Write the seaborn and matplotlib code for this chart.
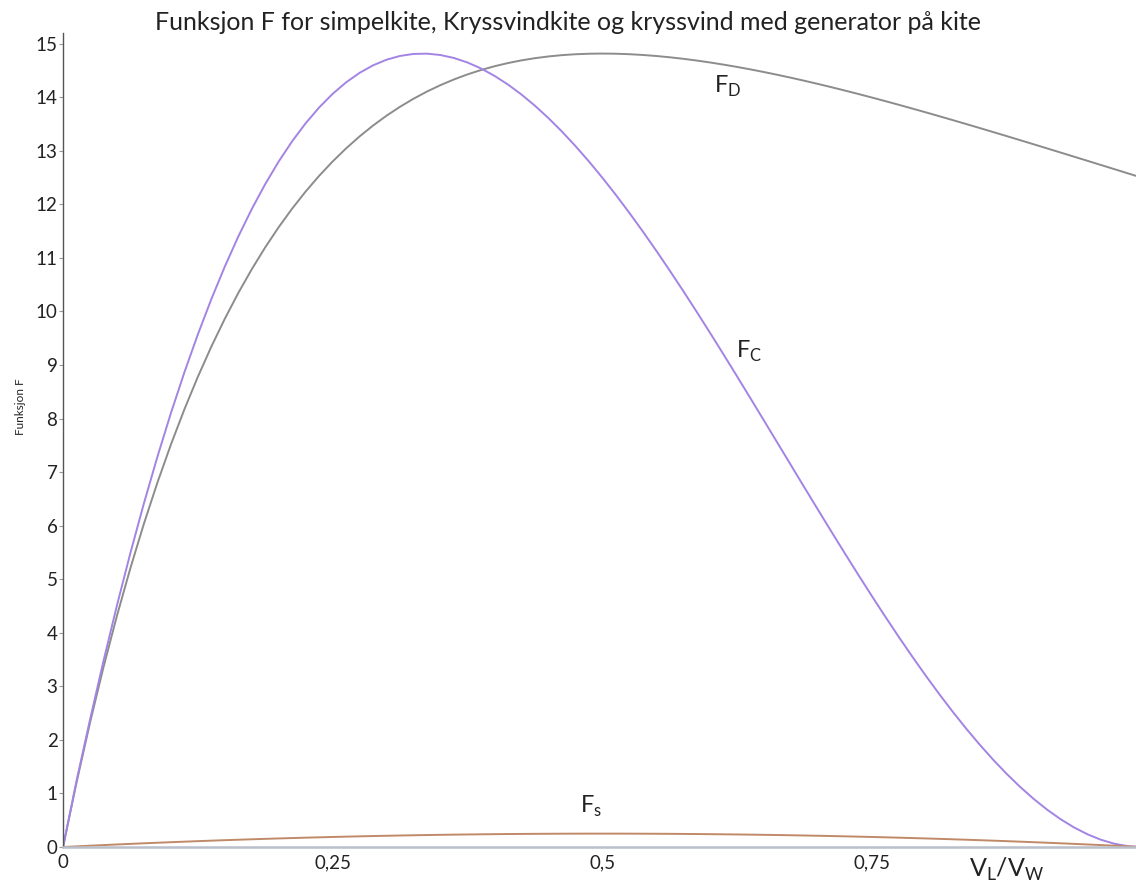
import matplotlib
matplotlib.use("Agg")
import matplotlib.pyplot as plt
import seaborn as sns
import pandas as pd

# V_L / V_W sample positions (steps of 1/80)
x_ratio = [k / 80 for k in range(81)]

# Kryssvindkite
f_c = [0.0, 1.2346, 2.3766, 3.4740, 4.5125, 5.4932, 6.4172, 7.2857, 8.1, 8.8611,
       9.5703, 10.2287, 10.8375, 11.3979, 11.9109, 12.3779, 12.8, 13.1783, 13.5141, 13.8084,
       14.0625, 14.2775, 14.4547, 14.5951, 14.7, 14.7705, 14.8078, 14.8131, 14.7875, 14.7322,
       14.6484, 14.5373, 14.4, 14.2377, 14.0516, 13.8428, 13.6125, 13.3619, 13.0922, 12.8045,
       12.5, 12.1799, 11.8453, 11.4975, 11.1375, 10.7666, 10.3859, 9.9967, 9.6, 9.1971,
       8.7891, 8.3771, 7.9625, 7.5463, 7.1297, 6.7139, 6.3, 5.8893, 5.4828, 5.0818,
       4.6875, 4.3010, 3.9234, 3.5561, 3.2, 2.8564, 2.5266, 2.2115, 1.9125, 1.6307,
       1.3672, 1.1232, 0.9, 0.6986, 0.5203, 0.3662, 0.2375, 0.1354, 0.0609, 0.0154,
       0.0]

# Kryssvind med generator på kite
f_d = [0.0, 1.2043, 2.3215, 3.3579, 4.3192, 5.2107, 6.0372, 6.8033, 7.5131, 8.1704,
       8.7791, 9.3422, 9.8627, 10.3437, 10.7876, 11.1970, 11.5741, 11.9211, 12.2398, 12.5322,
       12.8, 13.0447, 13.2679, 13.4709, 13.6550, 13.8214, 13.9713, 14.1056, 14.2255, 14.3317,
       14.4253, 14.5068, 14.5773, 14.6372, 14.6874, 14.7283, 14.7607, 14.7851, 14.8019, 14.8117,
       14.8148, 14.8118, 14.8030, 14.7888, 14.7695, 14.7456, 14.7172, 14.6848, 14.6484, 14.6085,
       14.5653, 14.5190, 14.4698, 14.4178, 14.3635, 14.3068, 14.2479, 14.1871, 14.1244, 14.0601,
       13.9942, 13.9268, 13.8582, 13.7883, 13.7174, 13.6455, 13.5727, 13.4991, 13.4247, 13.3496,
       13.2741, 13.1980, 13.1214, 13.0444, 12.9673, 12.8898, 12.8121, 12.7342, 12.6562, 12.5781,
       12.5]

# Simpelkite
f_s = [0.0, 0.0123, 0.0244, 0.0361, 0.0475, 0.0586, 0.0694, 0.0798, 0.09, 0.0998,
       0.1094, 0.1186, 0.1275, 0.1361, 0.1444, 0.1523, 0.16, 0.1673, 0.1744, 0.1811,
       0.1875, 0.1936, 0.1994, 0.2048, 0.21, 0.2148, 0.2194, 0.2236, 0.2275, 0.2311,
       0.2344, 0.2373, 0.24, 0.2423, 0.2444, 0.2461, 0.2475, 0.2486, 0.2494, 0.2498,
       0.25, 0.2498, 0.2494, 0.2486, 0.2475, 0.2461, 0.2444, 0.2423, 0.24, 0.2373,
       0.2344, 0.2311, 0.2275, 0.2236, 0.2194, 0.2148, 0.21, 0.2048, 0.1994, 0.1936,
       0.1875, 0.1811, 0.1744, 0.1673, 0.16, 0.1523, 0.1444, 0.1361, 0.1275, 0.1186,
       0.1094, 0.0998, 0.09, 0.0798, 0.0694, 0.0586, 0.0475, 0.0361, 0.0244, 0.0123,
       0.0]

x_ticks = [0, 0.25, 0.5, 0.75]
x_tick_labels = ["0", "0,25", "0,5", "0,75"]
y_ticks = list(range(0, 16))

sns.set_theme(style="white")
plt.rcParams["font.family"] = ["Lato", "DejaVu Sans"]
plt.rcParams["mathtext.fontset"] = "custom"
plt.rcParams["mathtext.rm"] = "Lato"

df = pd.concat([
    pd.DataFrame({"x": x_ratio, "F": f_d, "serie": "F_D"}),
    pd.DataFrame({"x": x_ratio, "F": f_c, "serie": "F_C"}),
    pd.DataFrame({"x": x_ratio, "F": f_s, "serie": "F_S"}),
])

colors = {"F_D": "#8c8c8c", "F_C": "#a383e3", "F_S": "#c08a68"}

fig = plt.figure(figsize=(11.36, 8.9), dpi=100)
ax = fig.add_axes([0.0555, 0.0483, 0.9445, 0.9147])

sns.lineplot(data=df, x="x", y="F", hue="serie", palette=colors,
             linewidth=1.4, legend=False, ax=ax, sort=False, estimator=None)

ax.set_xlim(0, 0.995)
ax.set_ylim(0, 15.2)

ax.set_xticks(x_ticks)
ax.set_xticklabels(x_tick_labels)
ax.set_yticks(y_ticks)
ax.set_yticklabels([str(v) for v in y_ticks])

ax.tick_params(axis="x", length=0, pad=5, labelsize=13.5, labelcolor="#222222")
ax.tick_params(axis="y", left=True, length=3, width=0.8, color="#999999",
               pad=1, labelsize=13.5, labelcolor="#222222")

for side in ("top", "right"):
    ax.spines[side].set_visible(False)
ax.spines["left"].set_color("#555555")
ax.spines["left"].set_linewidth(1.0)
ax.spines["bottom"].set_color("#b9c0cb")
ax.spines["bottom"].set_linewidth(1.8)

ax.set_xlabel("")
ax.set_ylabel("")
fig.text(0.018, 0.543, "Funksjon F", rotation=90, ha="center", va="center",
         fontsize=8.5, color="#222222")

fig.text(0.5, 0.975, "Funksjon F for simpelkite, Kryssvindkite og kryssvind med generator på kite",
         ha="center", va="center", fontsize=18, color="#222222")

# curve labels
ax.text(0.616, 14.2, r"F$_{\mathregular{D}}$", fontsize=17, ha="center", va="center", color="#222222")
ax.text(0.636, 9.25, r"F$_{\mathregular{C}}$", fontsize=17, ha="center", va="center", color="#222222")
ax.text(0.49, 0.75, r"F$_{\mathregular{s}}$", fontsize=17, ha="center", va="center", color="#222222")
ax.text(0.875, -0.42, r"V$_{\mathregular{L}}$/V$_{\mathregular{W}}$", fontsize=18,
        ha="center", va="center", color="#222222", clip_on=False)

fig.savefig("out.png", dpi=100, facecolor="white")
